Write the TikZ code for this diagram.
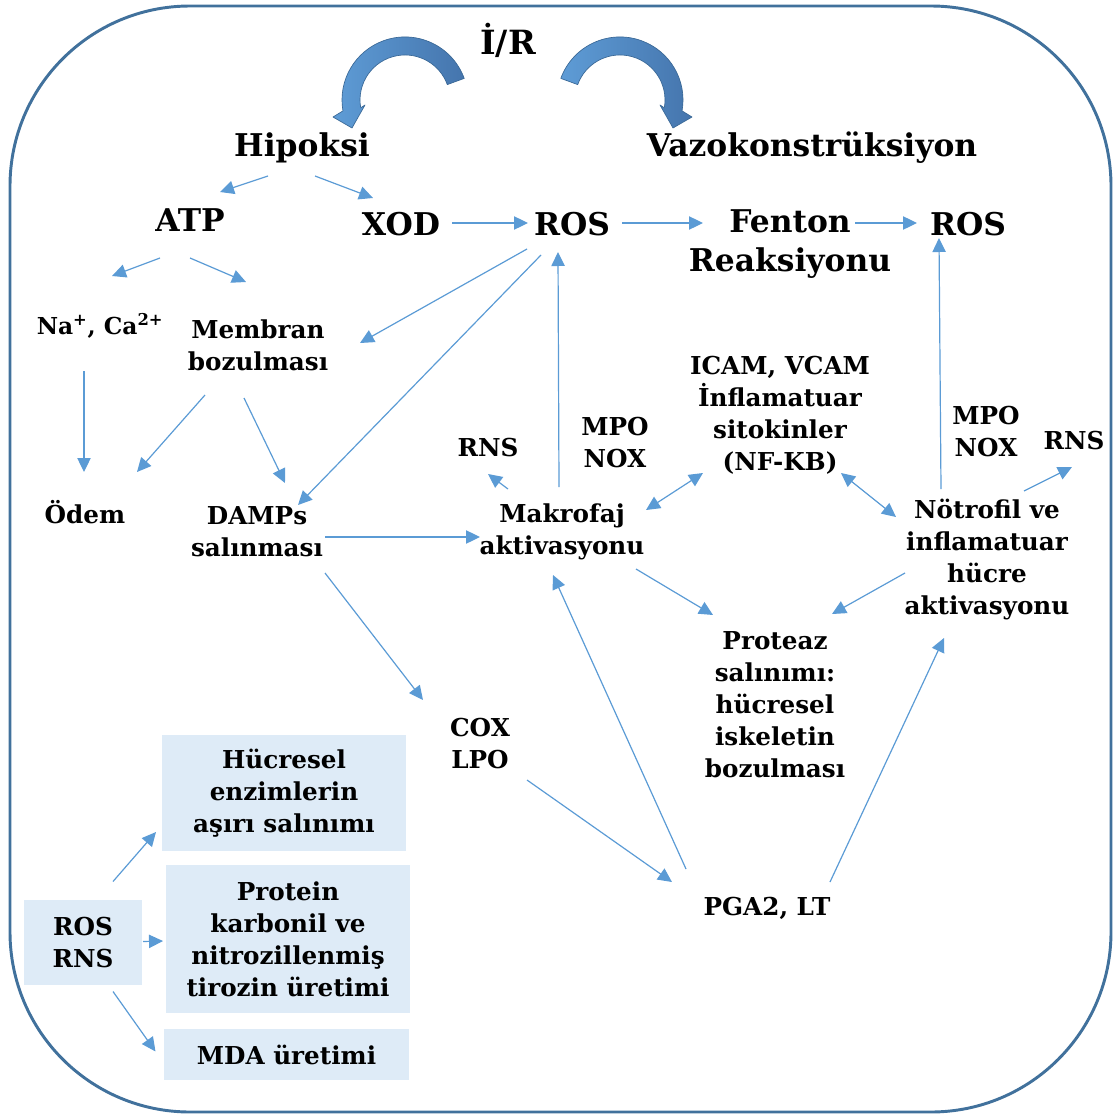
\documentclass[tikz,border=0pt]{standalone}
\usepackage{fontspec}
\setmainfont{DejaVu Serif}
\usetikzlibrary{arrows.meta}
\definecolor{frameblue}{HTML}{41719C}
\definecolor{lineblue}{HTML}{5B9BD5}
\definecolor{boxfill}{HTML}{DEEBF7}
\definecolor{arrowdark}{HTML}{4575AD}
\definecolor{arrowlight}{HTML}{5E9CD6}
\definecolor{arrowedge}{HTML}{3A6896}
\tikzset{
  bigl/.style={font=\fontsize{23.5}{29.25}\selectfont\bfseries, align=center, inner sep=0pt},
  smll/.style={font=\fontsize{18.5}{24}\selectfont\bfseries, align=center, inner sep=0pt},
  boxn/.style={smll, fill=boxfill},
  arr/.style={draw=lineblue, line width=0.9pt, -{Triangle[length=10.5pt,width=10pt]}},
  dbl/.style={draw=lineblue, line width=0.9pt, {Triangle[length=10.5pt,width=10pt]}-{Triangle[length=10.5pt,width=10pt]}},
  blockarrow/.style={left color=arrowlight, right color=arrowdark, draw=arrowedge, line width=0.5pt, line join=round},
}
\begin{document}
\begin{tikzpicture}[x=0.75pt,y=-0.75pt]
\useasboundingbox (0,0) rectangle (1114,1117);
\draw[frameblue, line width=2.2pt, rounded corners=135pt] (10,6) rectangle (1111,1112);

% curved block arrows
\path[blockarrow] (464.2,78.4) arc[start angle=-20, end angle=-190, radius=63]
  -- (333,117) -- (352,128) -- (365,105) -- (360.7,107.8)
  arc[start angle=-190, end angle=-20, radius=45] -- cycle;
\begin{scope}[shift={(1025,0)}, xscale=-1]
\path[blockarrow] (464.2,78.4) arc[start angle=-20, end angle=-190, radius=63]
  -- (333,117) -- (352,128) -- (365,105) -- (360.7,107.8)
  arc[start angle=-190, end angle=-20, radius=45] -- cycle;
\end{scope}

% nodes
\node[bigl, font=\fontsize{25}{30}\selectfont\bfseries] (ir) at (508,40) {İ/R};
\node[bigl] (hip) at (302,148) {Hipoksi};
\node[bigl] (vaz) at (812,148) {Vazokonstrüksiyon};
\node[bigl] (atp) at (190,220) {ATP};
\node[bigl] (xod) at (401,224) {XOD};
\node[bigl] (ros) at (572,224) {ROS};
\node[bigl] (fen) at (790,244) {Fenton\\Reaksiyonu};
\node[bigl] (ros2) at (968,224) {ROS};
\node[smll, font=\fontsize{17.5}{24}\selectfont\bfseries] (na) at (100,326) {Na\textsuperscript{+}, Ca\textsuperscript{2+}};
\node[smll] (mem) at (258,345) {Membran\\bozulması};
\node[smll] (odem) at (85,512) {Ödem};
\node[smll] (damps) at (257,532) {DAMPs\\salınması};
\node[smll] (rnsl) at (488,448) {RNS};
\node[smll] (mpoa) at (615,443) {MPO\\NOX};
\node[smll] (icam) at (780,415) {ICAM, VCAM\\İnflamatuar\\sitokinler\\(NF-KB)};
\node[smll] (mpob) at (986,432) {MPO\\NOX};
\node[smll] (rnsr) at (1074,441) {RNS};
\node[smll] (mak) at (562,532) {Makrofaj\\aktivasyonu};
\node[smll] (neu) at (987,560) {Nötrofil ve\\inflamatuar\\hücre\\aktivasyonu};
\node[smll] (prot) at (775,705) {Proteaz\\salınımı:\\hücresel\\iskeletin\\bozulması};
\node[smll] (cox) at (480,744) {COX\\LPO};
\node[smll] (pga) at (767,908) {PGA2, LT};
\node[boxn, minimum width=118*0.75pt, minimum height=85*0.75pt] (rr) at (83,942.5) {ROS\\RNS};
\node[boxn, minimum width=244*0.75pt, minimum height=116*0.75pt] (huc) at (284,793) {Hücresel\\enzimlerin\\aşırı salınımı};
\node[boxn, minimum width=244*0.75pt, minimum height=148*0.75pt] (prt) at (288,939) {Protein\\karbonil ve\\nitrozillenmiş\\tirozin üretimi};
\node[boxn, minimum width=245*0.75pt, minimum height=51*0.75pt] (mda) at (286.5,1054.5) {MDA üretimi};

% connectors
\draw[arr] ([shift={(-34,28)}]hip.center) -- ([shift={(30,-28)}]atp.center);
\draw[arr] ([shift={(13,28)}]hip.center) -- ([shift={(-28,-26)}]xod.center);
\draw[arr] ([shift={(-30,38)}]atp.center) -- ([shift={(12,-50)}]na.center);
\draw[arr] ([shift={(0,38)}]atp.center) -- ([shift={(-12,-63)}]mem.center);
\draw[arr] ([shift={(51,-1)}]xod.center) -- ([shift={(-44,-1)}]ros.center);
\draw[arr] ([shift={(50,-1)}]ros.center) -- ([shift={(-87,-21)}]fen.center);
\draw[arr] ([shift={(65,-21)}]fen.center) -- ([shift={(-51,-1)}]ros2.center);
\draw[arr] ([shift={(-45,25)}]ros.center) -- ([shift={(102,-2)}]mem.center);
\draw[arr] ([shift={(-31,31)}]ros.center) -- ([shift={(41,-27)}]damps.center);
\draw[arr] ([shift={(-3,-45)}]mak.center) -- ([shift={(-14,28)}]ros.center);
\draw[arr] ([shift={(-16,45)}]na.center) -- ([shift={(-1,-40)}]odem.center);
\draw[arr] ([shift={(-53,50)}]mem.center) -- ([shift={(52,-40)}]odem.center);
\draw[arr] ([shift={(-14,53)}]mem.center) -- ([shift={(28,-49)}]damps.center);
\draw[arr] ([shift={(-54,-43)}]mak.center) -- ([shift={(0,26)}]rnsl.center);
\draw[arr] ([shift={(68,5)}]damps.center) -- ([shift={(-82,5)}]mak.center);
\draw[dbl] ([shift={(84,-22)}]mak.center) -- ([shift={(-77,58)}]icam.center);
\draw[dbl] ([shift={(61,58)}]icam.center) -- ([shift={(-91,-43)}]neu.center);
\draw[arr] ([shift={(-46,-71)}]neu.center) -- ([shift={(-29,14)}]ros2.center);
\draw[arr] ([shift={(37,-69)}]neu.center) -- ([shift={(-2,26)}]rnsr.center);
\draw[arr] ([shift={(74,37)}]mak.center) -- ([shift={(-62,-90)}]prot.center);
\draw[arr] ([shift={(-82,13)}]neu.center) -- ([shift={(57,-91)}]prot.center);
\draw[arr] ([shift={(68,41)}]damps.center) -- ([shift={(-57,-44)}]cox.center);
\draw[arr] ([shift={(47,36)}]cox.center) -- ([shift={(-95,-26)}]pga.center);
\draw[arr] ([shift={(-81,-39)}]pga.center) -- ([shift={(-9,43)}]mak.center);
\draw[arr] ([shift={(63,-26)}]pga.center) -- ([shift={(-43,78)}]neu.center);
\draw[arr] ([shift={(30,-61)}]rr.center) -- ([shift={(-128,39)}]huc.center);
\draw[arr] ([shift={(60,-1)}]rr.center) -- ([shift={(-125,2)}]prt.center);
\draw[arr] ([shift={(30,49)}]rr.center) -- ([shift={(-131,-3)}]mda.center);
\end{tikzpicture}
\end{document}
